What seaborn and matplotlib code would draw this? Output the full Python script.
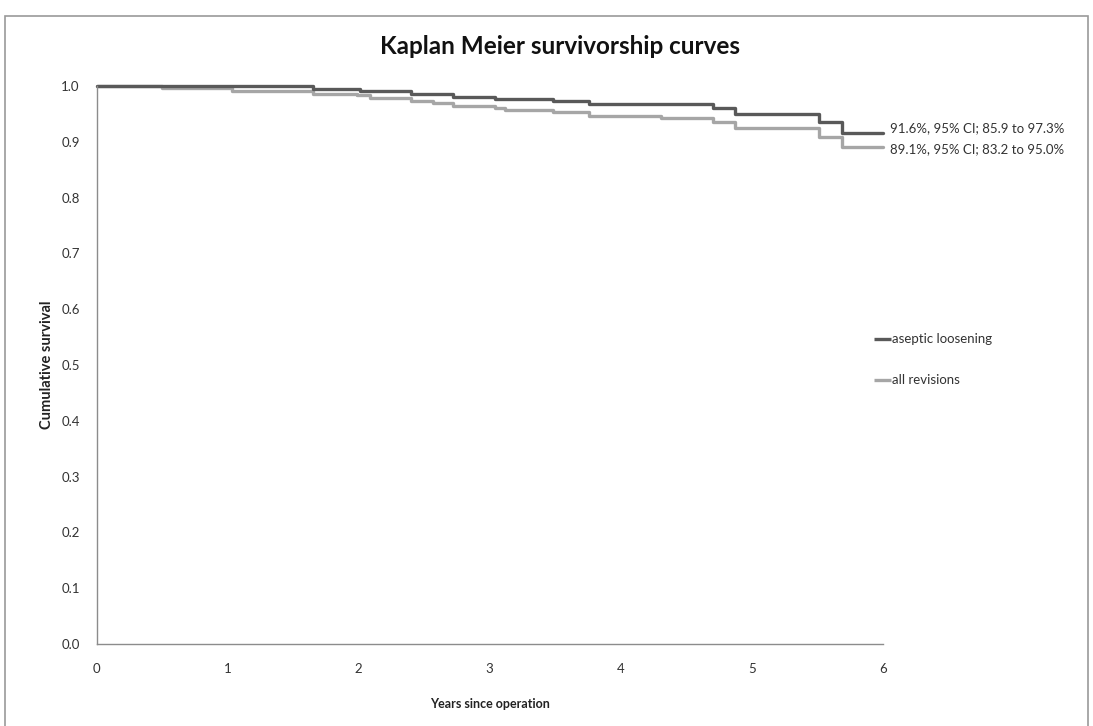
import matplotlib
matplotlib.use("Agg")
import matplotlib.pyplot as plt
import seaborn as sns
import pandas as pd
from matplotlib.patches import Rectangle

# ---- data ----
aseptic_time = [0, 1.65, 2.01, 2.40, 2.72, 3.04, 3.48, 3.76, 4.70, 4.87, 5.51, 5.69, 6.0]
aseptic_surv = [1.0, 0.995, 0.991, 0.986, 0.981, 0.977, 0.973, 0.967, 0.960, 0.949, 0.935, 0.916, 0.916]

allrev_time = [0, 0.50, 1.03, 1.65, 1.99, 2.09, 2.40, 2.57, 2.72, 3.04, 3.12, 3.48, 3.76,
               4.31, 4.70, 4.87, 5.51, 5.69, 6.0]
allrev_surv = [1.0, 0.996, 0.991, 0.986, 0.983, 0.979, 0.974, 0.969, 0.965, 0.960, 0.957, 0.953, 0.947,
               0.942, 0.935, 0.924, 0.909, 0.891, 0.891]

series_names = ["aseptic loosening", "all revisions"]
end_labels = ["91.6%, 95% CI; 85.9 to 97.3%", "89.1%, 95% CI; 83.2 to 95.0%"]
x_ticks = [0, 1, 2, 3, 4, 5, 6]
y_ticks = [0.0, 0.1, 0.2, 0.3, 0.4, 0.5, 0.6, 0.7, 0.8, 0.9, 1.0]

colors = {"aseptic loosening": "#595959", "all revisions": "#a6a6a6"}

df = pd.concat([
    pd.DataFrame({"time": aseptic_time, "surv": aseptic_surv, "group": series_names[0]}),
    pd.DataFrame({"time": allrev_time, "surv": allrev_surv, "group": series_names[1]}),
], ignore_index=True)

sns.set_theme(style="white")
plt.rcParams["font.family"] = ["Lato", "DejaVu Sans"]

W, H = 1093, 726
fig = plt.figure(figsize=(W / 100, H / 100), dpi=100)
ax = fig.add_axes([96.5 / W, 1 - 644 / H, (883 - 96.5) / W, (644 - 86) / H])

# draw all revisions first so aseptic sits on top
for name in [series_names[1], series_names[0]]:
    sub = df[df["group"] == name]
    sns.lineplot(data=sub, x="time", y="surv", ax=ax, color=colors[name],
                 drawstyle="steps-post", estimator=None, sort=False,
                 linewidth=2.4, clip_on=False, legend=False)

ax.set_xlim(0, 6)
ax.set_ylim(0, 1.0)
ax.set_xticks(x_ticks)
ax.set_xticklabels([str(t) for t in x_ticks])
ax.set_yticks(y_ticks)
ax.set_yticklabels([f"{t:.1f}" for t in y_ticks])

axis_col = "#8c8c8c"
for s in ["top", "right"]:
    ax.spines[s].set_visible(False)
for s in ["left", "bottom"]:
    ax.spines[s].set_color(axis_col)
    ax.spines[s].set_linewidth(1.0)
ax.tick_params(axis="both", which="major", direction="out", length=4, width=1,
               color=axis_col, labelsize=9.5, labelcolor="#333333", pad=8)
ax.tick_params(axis="x", pad=10)

ax.set_xlabel("Years since operation", fontsize=9, fontweight="bold", color="#222222", labelpad=16)
ax.set_ylabel("Cumulative survival", fontsize=10.5, fontweight="bold", color="#222222", labelpad=5)

fig.text(560 / W, 1 - 47 / H, "Kaplan Meier survivorship curves", ha="center", va="center",
         fontsize=17.5, fontweight="bold", color="#111111")

# end labels
end_vals = [aseptic_surv[-1], allrev_surv[-1]]
offsets = [0.008, -0.004]
for lab, v, off in zip(end_labels, end_vals, offsets):
    ax.text(6.05, v + off, lab, fontsize=9.5, color="#333333", va="center", ha="left", clip_on=False)

# legend (manual, like the original)
leg_y = [0.546, 0.474]
for name, yy in zip(series_names, leg_y):
    ax.plot([5.93, 6.06], [yy, yy], color=colors[name], linewidth=2.4, clip_on=False,
            solid_capstyle="butt")
    ax.text(6.065, yy, name, fontsize=9.5, color="#333333", va="center", ha="left", clip_on=False)

# outer chart border
fig.patches.append(Rectangle((5 / W, -0.05), (1088 - 5) / W, 1.05 - 16 / H, transform=fig.transFigure,
                             fill=False, edgecolor="#9a9a9a", linewidth=1.2))

fig.savefig("out.png", dpi=100)
